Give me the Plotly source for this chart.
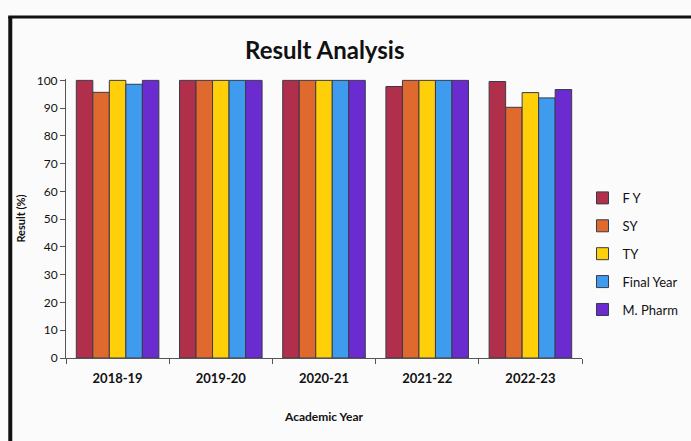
import plotly.graph_objects as go

years = ["2018-19", "2019-20", "2020-21", "2021-22", "2022-23"]
fy = [100, 100, 100, 97.8, 99.6]
sy = [95.7, 100, 100, 100, 90.3]
ty = [100, 100, 100, 100, 95.6]
final_year = [98.6, 100, 100, 100, 93.7]
m_pharm = [100, 100, 100, 100, 96.7]

series = [
    ("F Y", fy, "#B0304C"),
    ("SY", sy, "#E0692E"),
    ("TY", ty, "#FFCF0A"),
    ("Final Year", final_year, "#3F9BEE"),
    ("M. Pharm", m_pharm, "#6A2CCF"),
]

fig = go.Figure()
for name, vals, color in series:
    fig.add_trace(go.Bar(
        name=name,
        x=years,
        y=vals,
        legendgroup=name,
        marker=dict(color=color, line=dict(color="#3a3a4a", width=1)),
    ))

font = "Lato, 'Open Sans', sans-serif"

fig.update_layout(
    width=691,
    height=441,
    margin=dict(l=66, r=109, t=79, b=83, autoexpand=False),
    paper_bgcolor="#fbfbfb",
    plot_bgcolor="#fbfbfb",
    barmode="group",
    bargap=0.2,
    bargroupgap=0,
    font=dict(family=font, color="#111111", size=12),
    title=dict(text="<b>Result Analysis</b>", x=0.47, xanchor="center",
               y=0.885, yanchor="middle", font=dict(size=24, family=font)),
    xaxis=dict(
        title=dict(text="<b>Academic Year</b>", standoff=28, font=dict(size=12)),
        tickfont=dict(size=13),
        ticktext=[f"<b>{y}</b>" for y in years],
        tickvals=years,
        ticklabelstandoff=8,
        showline=True, linecolor="#555555", linewidth=1,
        ticks="outside", ticklen=5, tickcolor="#555555",
        tickson="boundaries",
        automargin=False,
    ),
    yaxis=dict(
        title=dict(text="<b>Result (%)</b>", standoff=8, font=dict(size=11)),
        range=[0, 100.5],
        dtick=10,
        showgrid=False,
        zeroline=False,
        showline=True, linecolor="#555555", linewidth=1,
        ticks="outside", ticklen=5, tickcolor="#555555",
        automargin=False,
    ),
    legend=dict(
        xref="container", x=0.843, y=0.373, xanchor="left", yanchor="middle",
        font=dict(size=13), tracegroupgap=8,
        itemwidth=30, bgcolor="rgba(0,0,0,0)",
    ),
    shapes=[
        dict(type="line", xref="paper", yref="paper",
             x0=-0.108, x1=-0.108, y0=1.222, y1=-0.31,
             line=dict(color="#111111", width=4)),
        dict(type="line", xref="paper", yref="paper",
             x0=-0.112, x1=1.22, y0=1.222, y1=1.222,
             line=dict(color="#111111", width=3)),
    ],
)

fig.write_html("out.html", config={"displayModeBar": False},
               post_script="document.body.style.margin='0';")
